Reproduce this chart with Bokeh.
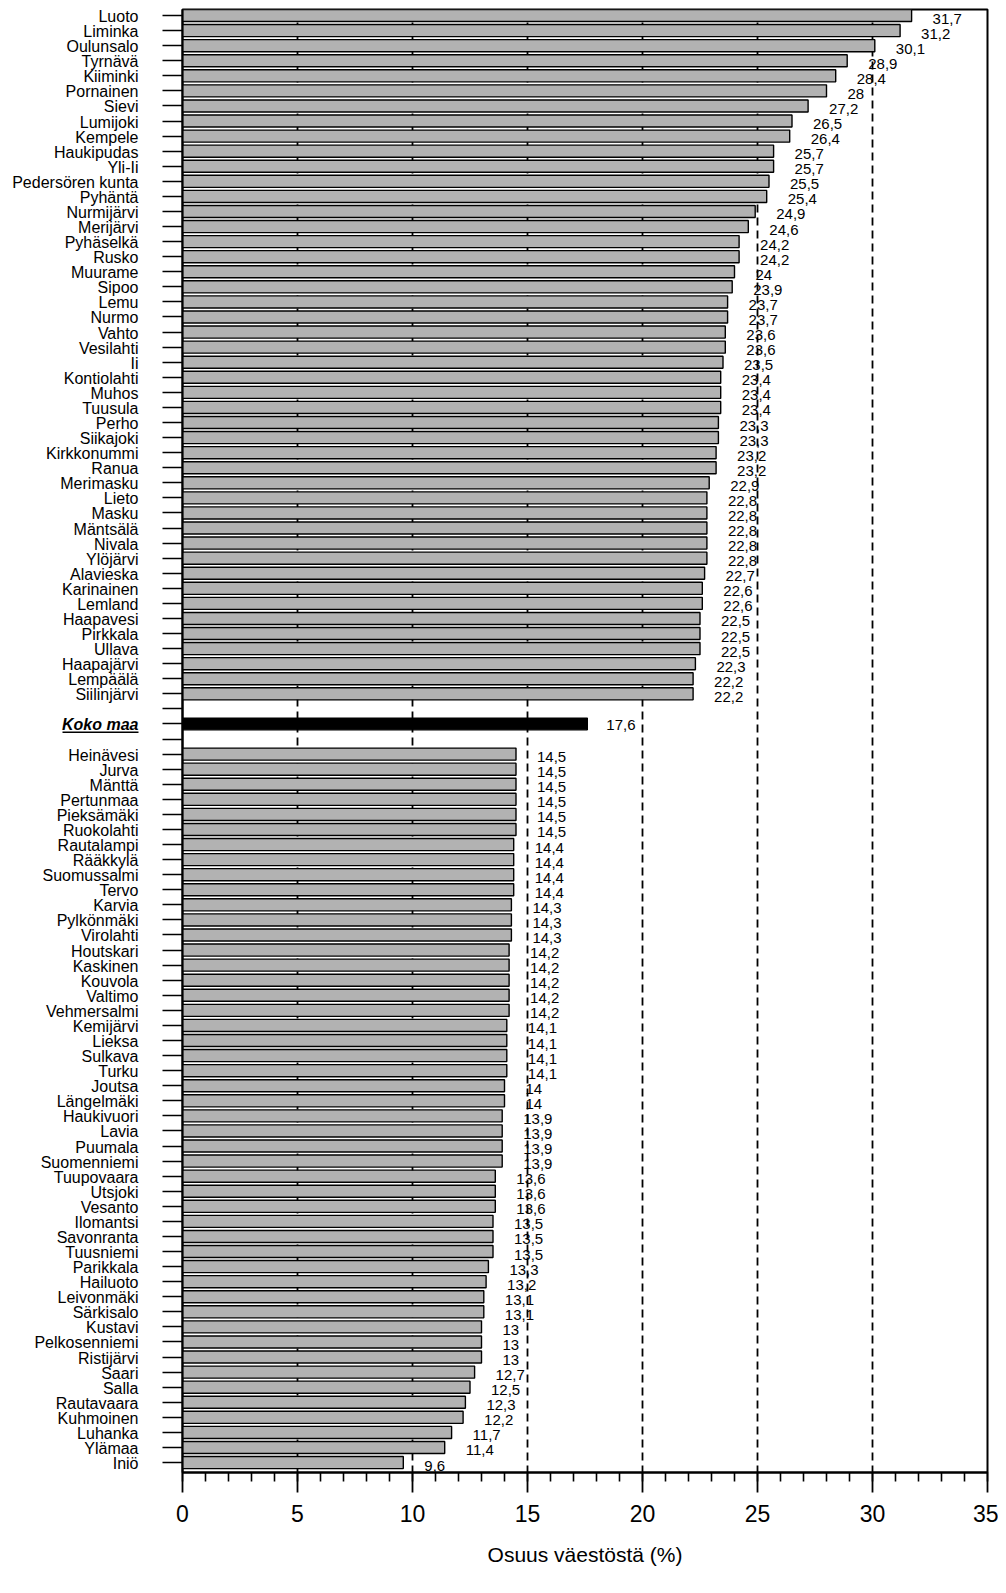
from bokeh.plotting import figure
from bokeh.layouts import row
from bokeh.models import (Range1d, FixedTicker, SingleIntervalTicker, ColumnDataSource, Span)
from bokeh.core.properties import value
from bokeh.embed import file_html
from bokeh.resources import INLINE

top_names = ["Luoto", "Liminka", "Oulunsalo", "Tyrnävä", "Kiiminki", "Pornainen", "Sievi",
             "Lumijoki", "Kempele", "Haukipudas", "Yli-Ii", "Pedersören kunta", "Pyhäntä",
             "Nurmijärvi", "Merijärvi", "Pyhäselkä", "Rusko", "Muurame", "Sipoo", "Lemu",
             "Nurmo", "Vahto", "Vesilahti", "Ii", "Kontiolahti", "Muhos", "Tuusula", "Perho",
             "Siikajoki", "Kirkkonummi", "Ranua", "Merimasku", "Lieto", "Masku", "Mäntsälä",
             "Nivala", "Ylöjärvi", "Alavieska", "Karinainen", "Lemland", "Haapavesi",
             "Pirkkala", "Ullava", "Haapajärvi", "Lempäälä", "Siilinjärvi"]
top_values = [31.7, 31.2, 30.1, 28.9, 28.4, 28, 27.2, 26.5, 26.4, 25.7, 25.7, 25.5, 25.4,
              24.9, 24.6, 24.2, 24.2, 24, 23.9, 23.7, 23.7, 23.6, 23.6, 23.5, 23.4, 23.4,
              23.4, 23.3, 23.3, 23.2, 23.2, 22.9, 22.8, 22.8, 22.8, 22.8, 22.8, 22.7, 22.6,
              22.6, 22.5, 22.5, 22.5, 22.3, 22.2, 22.2]

country_name = "Koko maa"
country_value = 17.6

bottom_names = ["Heinävesi", "Jurva", "Mänttä", "Pertunmaa", "Pieksämäki", "Ruokolahti",
                "Rautalampi", "Rääkkylä", "Suomussalmi", "Tervo", "Karvia", "Pylkönmäki",
                "Virolahti", "Houtskari", "Kaskinen", "Kouvola", "Valtimo", "Vehmersalmi",
                "Kemijärvi", "Lieksa", "Sulkava", "Turku", "Joutsa", "Längelmäki",
                "Haukivuori", "Lavia", "Puumala", "Suomenniemi", "Tuupovaara", "Utsjoki",
                "Vesanto", "Ilomantsi", "Savonranta", "Tuusniemi", "Parikkala", "Hailuoto",
                "Leivonmäki", "Särkisalo", "Kustavi", "Pelkosenniemi", "Ristijärvi", "Saari",
                "Salla", "Rautavaara", "Kuhmoinen", "Luhanka", "Ylämaa", "Iniö"]
bottom_values = [14.5, 14.5, 14.5, 14.5, 14.5, 14.5, 14.4, 14.4, 14.4, 14.4, 14.3, 14.3,
                 14.3, 14.2, 14.2, 14.2, 14.2, 14.2, 14.1, 14.1, 14.1, 14.1, 14, 14, 13.9,
                 13.9, 13.9, 13.9, 13.6, 13.6, 13.6, 13.5, 13.5, 13.5, 13.3, 13.2, 13.1, 13.1,
                 13, 13, 13, 12.7, 12.5, 12.3, 12.2, 11.7, 11.4, 9.6]

x_label = "Osuus väestöstä (%)"
grid_values = [5, 10, 15, 20, 25, 30]

FONT = "Liberation Sans"
H = 1590
TOP = 9
BOTTOM = 118
LABEL_W = 160
TEXT_X = 138


def fmt(v):
    return f"{v:g}".replace(".", ",")


# slot layout: top group, empty slot, country, empty slot, bottom group
n_top = len(top_names)
top_y = list(range(n_top))
country_y = n_top + 1
bottom_y = [n_top + 3 + i for i in range(len(bottom_names))]
n_slots = bottom_y[-1] + 1

yr = Range1d(n_slots - 0.34, -0.4)

# ---- label column (category names) ----
lf = figure(width=LABEL_W, height=H, output_backend="svg", toolbar_location=None,
            x_range=Range1d(0, LABEL_W), y_range=yr, x_axis_type=None, y_axis_type=None,
            min_border_left=0, min_border_right=0, min_border_top=TOP,
            min_border_bottom=BOTTOM)
lf.outline_line_color = None
lf.xgrid.visible = False
lf.ygrid.visible = False
name_src = ColumnDataSource(dict(x=[TEXT_X] * (len(top_names) + len(bottom_names)),
                                 y=top_y + bottom_y, t=top_names + bottom_names))
lf.text(x="x", y="y", text="t", source=name_src, text_font=value(FONT),
        text_font_size="16px", text_align="right", text_baseline="middle",
        y_offset=1, text_color="black")
lf.text(x=[TEXT_X], y=[country_y], text=[country_name], text_font=value(FONT),
        text_font_size="16px", text_font_style="bold italic", text_align="right",
        text_baseline="middle", y_offset=1, text_color="black")
lf.segment(x0=[TEXT_X - 76], x1=[TEXT_X], y0=[country_y + 0.55], y1=[country_y + 0.55],
           line_color="black", line_width=1.6)

# ---- main chart ----
p = figure(width=998 - LABEL_W, height=H, output_backend="svg", toolbar_location=None,
           x_range=Range1d(0, 35), y_range=yr,
           min_border_left=22, min_border_right=11, min_border_top=TOP,
           min_border_bottom=BOTTOM)
p.background_fill_color = "white"
p.outline_line_color = "black"
p.outline_line_width = 2
p.xgrid.visible = False
p.ygrid.visible = False

for g in grid_values:
    p.add_layout(Span(location=g, dimension="height", line_color="black",
                      line_width=1.8, line_dash="8 5", level="underlay"))

src_top = ColumnDataSource(dict(y=top_y, v=top_values, t=[fmt(v) for v in top_values]))
src_bot = ColumnDataSource(dict(y=bottom_y, v=bottom_values, t=[fmt(v) for v in bottom_values]))
src_c = ColumnDataSource(dict(y=[country_y], v=[country_value], t=[fmt(country_value)]))

for src in (src_top, src_bot):
    p.hbar(y="y", right="v", left=0, height=0.8, source=src, fill_color="#b2b2b2",
           line_color="black", line_width=1.4)
    p.text(x="v", y="y", text="t", source=src, x_offset=21, y_offset=3,
           text_font=value(FONT), text_font_size="15px", text_baseline="middle",
           text_align="left", text_color="black")

p.hbar(y="y", right="v", left=0, height=0.78, source=src_c, fill_color="black",
       line_color="black", line_width=1.4)
p.text(x="v", y="y", text="t", source=src_c, x_offset=19, y_offset=1,
       text_font=value(FONT), text_font_size="15px", text_baseline="middle",
       text_align="left", text_color="black")

# y axis: ticks only
ya = p.yaxis[0]
ya.ticker = FixedTicker(ticks=list(range(n_slots)))
ya.major_label_overrides = {i: "" for i in range(n_slots)}
ya.major_tick_out = 20
ya.major_tick_in = 0
ya.minor_tick_out = 0
ya.minor_tick_in = 0
ya.major_tick_line_width = 1.6
ya.axis_line_width = 2
ya.major_label_standoff = 0
ya.major_label_text_font_size = "1px"

# x axis
xa = p.xaxis[0]
xa.ticker = SingleIntervalTicker(interval=5, num_minor_ticks=5)
xa.major_tick_out = 20
xa.major_tick_in = 0
xa.minor_tick_out = 9
xa.minor_tick_in = 0
xa.major_tick_line_width = 1.8
xa.minor_tick_line_width = 1.6
xa.axis_line_width = 2
xa.major_label_standoff = 12
xa.major_label_text_font = FONT
xa.major_label_text_font_size = "23px"
xa.major_label_text_color = "black"
xa.axis_label = x_label
xa.axis_label_text_font = FONT
xa.axis_label_text_font_size = "21px"
xa.axis_label_text_font_style = "normal"
xa.axis_label_standoff = 18
xa.axis_label_text_color = "black"

layout = row(lf, p)
open("out.html", "w").write(file_html(layout, INLINE))
